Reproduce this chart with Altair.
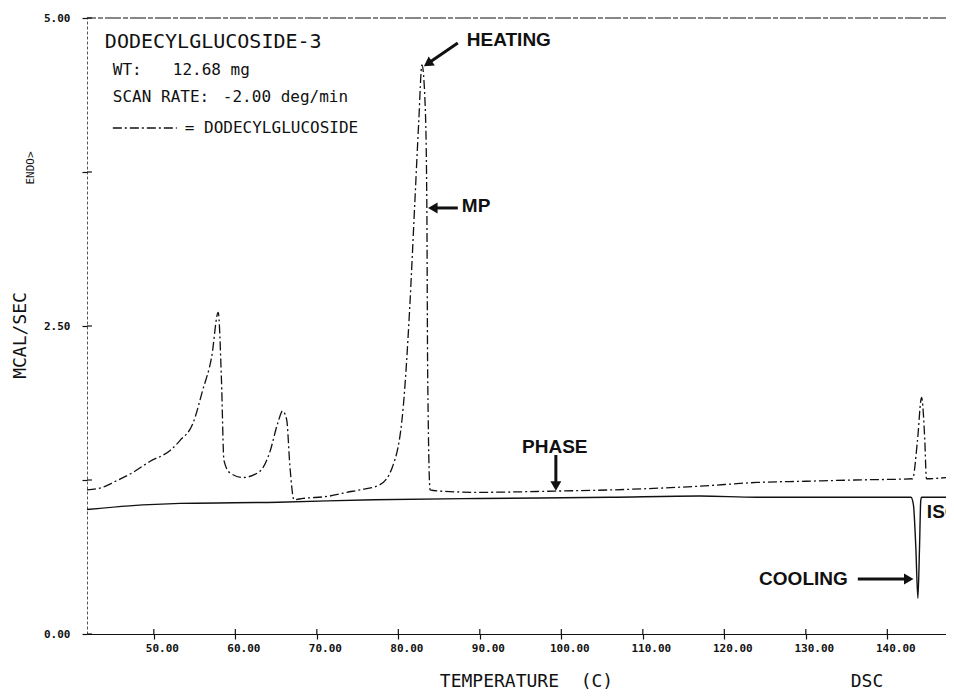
import altair as alt
import pandas as pd

# ---------------- data ----------------
heat_T = [41.8, 43.7, 45.0, 47.4, 49.5, 52.0, 53.2, 54.8, 56.0, 57.1, 57.9, 58.3, 58.6, 59.3,
          60.9, 63.0, 64.2, 65.2, 65.8, 66.3, 66.7, 67.2, 68.3, 71.6, 73.7, 75.3, 77.7, 79.3,
          80.6, 81.4, 82.0, 82.5, 82.9, 83.3, 83.5, 83.6, 83.9, 85.1, 89.8, 99.3, 106.3, 117.0,
          124.0, 130.0, 136.0, 143.1, 143.7, 144.2, 144.6, 144.8, 147.2]
heat_v = [1.17, 1.19, 1.23, 1.31, 1.40, 1.49, 1.57, 1.71, 1.98, 2.25, 2.61, 2.06, 1.41, 1.31,
          1.27, 1.32, 1.47, 1.71, 1.81, 1.74, 1.36, 1.09, 1.10, 1.12, 1.15, 1.17, 1.21, 1.36,
          1.84, 2.65, 3.47, 4.15, 4.62, 4.28, 3.47, 2.12, 1.17, 1.16, 1.15, 1.16, 1.17, 1.20,
          1.23, 1.24, 1.25, 1.26, 1.57, 1.92, 1.57, 1.26, 1.27]

cool_T = [41.8, 47.0, 53.2, 65.3, 77.0, 89.8, 106.0, 117.0, 124.0, 135.0, 142.9, 143.2,
          143.5, 143.75, 143.95, 144.1, 144.2, 147.2]
cool_v = [1.01, 1.04, 1.06, 1.07, 1.09, 1.10, 1.11, 1.12, 1.11, 1.11, 1.11, 1.05,
          0.70, 0.29, 0.70, 1.08, 1.11, 1.11]

x_ticks = [50, 60, 70, 80, 90, 100, 110, 120, 130, 140]
y_ticks = [0, 1.25, 2.5, 3.75, 5.0]

# info box texts (mono plotter font)
box_title = ["DODECYLGLUCOSIDE-3"]
box_title_T = [43.99]
box_title_v = [4.805]
box_texts = ["WT:", "12.68 mg", "SCAN RATE:", "-2.00 deg/min", "= DODECYLGLUCOSIDE"]
box_T = [44.97, 52.33, 44.97, 58.47, 53.80]
box_v = [4.578, 4.578, 4.359, 4.359, 4.107]
legend_T = [44.97, 52.82]
legend_v = [4.107, 4.107]

# bold annotations
ann_texts = ["HEATING", "MP", "ISO"]
ann_T = [88.40, 87.79, 144.85]
ann_v = [4.821, 3.474, 0.99]
phase_text = ["PHASE"]
phase_T = [99.2]
phase_v = [1.518]
cool_text = ["COOLING"]
cool_text_T = [135.15]
cool_text_v = [0.446]

# arrows: tail -> head centre, head angle
arr_tail_T = [87.30, 87.30, 99.33, 136.38]
arr_tail_v = [4.797, 3.458, 1.453, 0.446]
arr_head_T = [83.62, 84.23, 99.33, 142.63]
arr_head_v = [4.63, 3.458, 1.201, 0.446]
arr_angle = [235.5, 270, 180, 90]

# ---------------- chart ----------------
X_DOMAIN = [41.8, 147.2]
Y_DOMAIN = [0, 5]
xs = alt.Scale(domain=X_DOMAIN, nice=False, zero=False)
ys = alt.Scale(domain=Y_DOMAIN, nice=False, zero=False)

SANS = "Liberation Sans"
MONO = "DejaVu Sans Mono"
INK = "#111111"
DASHDOT = [9, 3, 2, 3]

heat_df = pd.DataFrame({"T": heat_T, "v": heat_v})
cool_df = pd.DataFrame({"T": cool_T, "v": cool_v})

x_axis = alt.Axis(
    values=x_ticks, format=".2f", grid=False,
    labelFont=MONO, labelFontWeight="bold", labelFontSize=11, labelColor=INK,
    labelOffset=8, labelPadding=3,
    tickSize=5, tickColor=INK, tickWidth=1.2,
    domainColor=INK, domainWidth=1.2,
    title="TEMPERATURE\u00a0\u00a0(C)", titleFont=MONO, titleFontSize=18,
    titleFontWeight="normal", titleColor=INK,
    titleX=439, titleY=52, titleBaseline="alphabetic", titleAlign="center",
)
y_axis = alt.Axis(
    values=y_ticks, grid=False,
    labelExpr="datum.value % 2.5 == 0 ? format(datum.value, '.2f') : ''",
    labelFont=MONO, labelFontWeight="bold", labelFontSize=11, labelColor=INK,
    labelPadding=12,
    tickSize=5, tickColor=INK, tickWidth=1.2,
    domainColor="#555555", domainWidth=1, domainDash=[3, 2],
    title="MCAL/SEC", titleFont=MONO, titleFontSize=18, titleFontWeight="normal",
    titleColor=INK, titleAngle=270, titleX=-67, titleY=317,
    titleAlign="center", titleBaseline="middle",
)


def X(field):
    return alt.X(field, scale=xs, axis=x_axis)


def Y(field):
    return alt.Y(field, scale=ys, axis=y_axis)


heat = alt.Chart(heat_df).mark_line(
    color=INK, strokeWidth=1.3, strokeDash=DASHDOT, interpolate="monotone"
).encode(x=X("T:Q"), y=Y("v:Q"))

cool = alt.Chart(cool_df).mark_line(
    color=INK, strokeWidth=1.4, interpolate="monotone"
).encode(x=X("T:Q"), y=Y("v:Q"))

top_rule = alt.Chart(pd.DataFrame({"v": [Y_DOMAIN[1]]})).mark_rule(
    color=INK, strokeWidth=1.2, strokeDash=[16, 2, 5, 2]
).encode(y=Y("v:Q"))

# inner halves of the crossing tick marks
ytick_df = pd.DataFrame({"v": y_ticks, "T": [X_DOMAIN[0]] * len(y_ticks),
                         "T2": [X_DOMAIN[0] + 0.6] * len(y_ticks)})
ytick_in = alt.Chart(ytick_df).mark_rule(color=INK, strokeWidth=1.2).encode(
    x=X("T:Q"), x2="T2:Q", y=Y("v:Q"))
xtick_df = pd.DataFrame({"T": x_ticks, "v": [Y_DOMAIN[0]] * len(x_ticks),
                         "v2": [Y_DOMAIN[0] + 0.04] * len(x_ticks)})
xtick_in = alt.Chart(xtick_df).mark_rule(color=INK, strokeWidth=1.2).encode(
    x=X("T:Q"), y=Y("v:Q"), y2="v2:Q")

legend_line = alt.Chart(pd.DataFrame({"T": legend_T, "v": legend_v})).mark_line(
    color=INK, strokeWidth=1.3, strokeDash=DASHDOT
).encode(x=X("T:Q"), y=Y("v:Q"))

title_txt = alt.Chart(pd.DataFrame({"T": box_title_T, "v": box_title_v, "t": box_title})).mark_text(
    font=MONO, fontSize=20, align="left", baseline="middle", color=INK
).encode(x=X("T:Q"), y=Y("v:Q"), text="t:N")

box_txt = alt.Chart(pd.DataFrame({"T": box_T, "v": box_v, "t": box_texts})).mark_text(
    font=MONO, fontSize=16, align="left", baseline="middle", color=INK
).encode(x=X("T:Q"), y=Y("v:Q"), text="t:N")

ann_txt = alt.Chart(pd.DataFrame({"T": ann_T, "v": ann_v, "t": ann_texts})).mark_text(
    font=SANS, fontSize=19, fontWeight="bold", align="left", baseline="middle", color=INK
).encode(x=X("T:Q"), y=Y("v:Q"), text="t:N")

phase_txt = alt.Chart(pd.DataFrame({"T": phase_T, "v": phase_v, "t": phase_text})).mark_text(
    font=SANS, fontSize=19, fontWeight="bold", align="center", baseline="middle", color=INK
).encode(x=X("T:Q"), y=Y("v:Q"), text="t:N")

cool_txt = alt.Chart(pd.DataFrame({"T": cool_text_T, "v": cool_text_v, "t": cool_text})).mark_text(
    font=SANS, fontSize=19, fontWeight="bold", align="right", baseline="middle", color=INK
).encode(x=X("T:Q"), y=Y("v:Q"), text="t:N")

arr_df = pd.DataFrame({"T": arr_tail_T, "v": arr_tail_v, "T2": arr_head_T,
                       "v2": arr_head_v, "ang": arr_angle})
shafts = alt.Chart(arr_df).mark_rule(color=INK, strokeWidth=3).encode(
    x=X("T:Q"), x2="T2:Q", y=Y("v:Q"), y2="v2:Q",
)
heads = alt.Chart(arr_df).mark_point(
    shape="triangle-up", filled=True, color=INK, size=120, opacity=1
).encode(
    x=X("T2:Q"), y=Y("v2:Q"),
    angle=alt.Angle("ang:Q", scale=None),
)

endo = alt.Chart(pd.DataFrame({"t": ["ENDO>"]})).mark_text(
    font=MONO, fontSize=11, angle=270, align="center", baseline="middle", color=INK
).encode(x=alt.value(-56), y=alt.value(150), text="t:N")

dsc = alt.Chart(pd.DataFrame({"t": ["DSC"]})).mark_text(
    font=MONO, fontSize=18, align="center", baseline="alphabetic", color=INK
).encode(x=alt.value(780), y=alt.value(669), text="t:N")

chart = alt.layer(
    heat, cool, top_rule, ytick_in, xtick_in, legend_line, title_txt, box_txt, ann_txt,
    phase_txt, cool_txt, shafts, heads, endo, dsc
).properties(
    width=859, height=616,
    padding={"left": 79, "top": 10, "right": 0, "bottom": 56},
    autosize=alt.AutoSizeParams(type="none"),
    background="white",
).configure_view(stroke=None)

chart.save("out.html", embed_options={"renderer": "svg", "actions": False})
